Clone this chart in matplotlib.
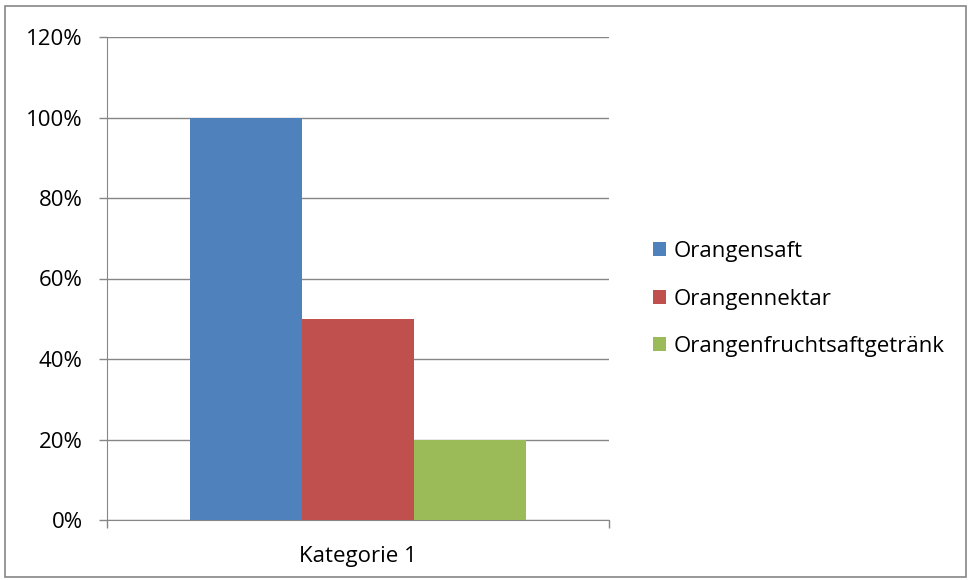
import matplotlib.pyplot as plt
from matplotlib.patches import Rectangle
from matplotlib.ticker import PercentFormatter

categories = ["Kategorie 1"]
series = ["Orangensaft", "Orangennektar", "Orangenfruchtsaftgetränk"]
values = [1.0, 0.5, 0.2]
colors = ["#4F81BD", "#C0504D", "#9BBB59"]

plt.rcParams['font.family'] = ['Open Sans', 'DejaVu Sans']

fig = plt.figure(figsize=(9.71, 5.8), dpi=100)
ax = fig.add_axes([107/971, 1 - 520/580, (609 - 107)/971, (520 - 37)/580])

width = 0.223
offsets = [-width, 0, width]
for name, val, col, off in zip(series, values, colors, offsets):
    ax.bar(0 + off, val, width=width, color=col, label=name, zorder=3)

ax.set_xlim(-0.5, 0.5)
ax.set_ylim(0, 1.2)
ax.set_yticks([0, 0.2, 0.4, 0.6, 0.8, 1.0, 1.2])
ax.yaxis.set_major_formatter(PercentFormatter(1.0, decimals=0))
ax.grid(axis='y', color='#868686', linewidth=1, zorder=0)

ax.set_xticks([0])
ax.set_xticklabels(categories)
ax.set_xticks([-0.5, 0.5], minor=True)
ax.tick_params(axis='x', which='major', length=0, pad=19, labelsize=16)
ax.tick_params(axis='x', which='minor', length=5.5, color='#868686', width=1)
ax.tick_params(axis='y', length=5.5, color='#868686', width=1, labelsize=16, pad=12)

for side in ['top', 'right']:
    ax.spines[side].set_visible(False)
for side in ['left', 'bottom']:
    ax.spines[side].set_color('#868686')

fig.legend(loc='center left', bbox_to_anchor=(633/971, 1 - 299/580),
           frameon=False, fontsize=16, handlelength=0.6, handleheight=0.6,
           handletextpad=0.35, labelspacing=1.2)

# Rahmen um das Diagramm
fig.patches.append(Rectangle((5/971, 3/580), 961/971, 571/580, transform=fig.transFigure,
                             fill=False, edgecolor='#868686', linewidth=1.2))

fig.savefig("out.png", dpi=100)
